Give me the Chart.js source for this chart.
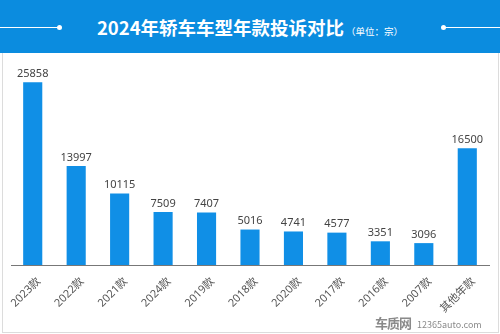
<!DOCTYPE html>
<html lang="zh">
<head>
<meta charset="UTF-8">
<title>2024年轿车车型年款投诉对比</title>
<style>
    body { margin: 0; width: 500px; height: 334px; overflow: hidden; background: #fff; font-family: 'Noto Sans CJK SC', 'Noto Sans', sans-serif; }
    .banner { position: absolute; left: 0; top: 0; width: 500px; height: 53px; background: #0b8cdf; }
    .banner .title { position: absolute; left: 0; width: 500px; top: 14px; text-align: center; color: #fff; font-size: 18.5px; font-weight: bold; line-height: 26px; white-space: nowrap; }
    .banner .title small { font-size: 9.5px; font-weight: normal; margin-left: 2px; }
    .line { position: absolute; top: 27px; height: 1px; background: #fff; }
    .dot { position: absolute; top: 25px; width: 5px; height: 5px; border-radius: 50%; background: #fff; }
    .panel { position: absolute; left: 2px; top: 53px; width: 495px; height: 279px; border: 1px solid #dcdcdc; border-top: none; }
    #chart { position: absolute; left: 0; top: 53px; width: 500px; height: 281px; }
    .mark { position: absolute; left: 375px; top: 309px; color: #8a8a8a; white-space: nowrap; }
    .mark b { font-size: 13px; letter-spacing: -1px; }
    .mark span { font-size: 9px; margin-left: 6px; }
</style>
</head>
<body>
    <div class="banner">
        <div class="line" style="left:0;width:58px"></div>
        <div class="dot" style="left:57px"></div>
        <div class="dot" style="left:441px"></div>
        <div class="line" style="left:443px;width:57px"></div>
        <div class="title">2024年轿车车型年款投诉对比<small>（单位：宗）</small></div>
    </div>
    <div class="panel"></div>
    <div id="chart"><canvas id="c"></canvas></div>
    <div class="mark"><b>车质网</b><span>12365auto.com</span></div>
<script src="https://cdn.jsdelivr.net/npm/chart.js@4/dist/chart.umd.min.js"></script>
<script>
    const labels = ['2023款', '2022款', '2021款', '2024款', '2019款', '2018款', '2020款', '2017款', '2016款', '2007款', '其他年款'];
    const values = [25858, 13997, 10115, 7509, 7407, 5016, 4741, 4577, 3351, 3096, 16500];
    const yMax = 28000;

    // 막대 위에 값 표시
    const valueLabels = {
        id: 'valueLabels',
        afterDatasetsDraw(chart) {
            const ctx = chart.ctx;
            const meta = chart.getDatasetMeta(0);
            ctx.save();
            ctx.font = '11px "Noto Sans", "Noto Sans CJK SC", sans-serif';
            ctx.fillStyle = '#444';
            ctx.textAlign = 'center';
            ctx.textBaseline = 'bottom';
            meta.data.forEach((bar, i) => {
                ctx.fillText(values[i], bar.x, bar.y - 3);
            });
            ctx.restore();
        }
    };

    new Chart(document.getElementById('c'), {
        type: 'bar',
        data: {
            labels: labels,
            datasets: [{
                data: values,
                backgroundColor: '#108fe6',
                borderWidth: 0,
                categoryPercentage: 1,
                barPercentage: 0.44
            }]
        },
        options: {
            responsive: true,
            maintainAspectRatio: false,
            animation: false,
            layout: { padding: { left: 11, right: 11, top: 14, bottom: 0 } },
            plugins: { legend: { display: false }, tooltip: { enabled: false } },
            scales: {
                x: {
                    grid: { display: false },
                    border: { display: true, color: '#777', width: 1 },
                    ticks: {
                        minRotation: 45,
                        maxRotation: 45,
                        padding: 2,
                        labelOffset: 6,
                        color: '#555',
                        font: { size: 11, family: '"Noto Sans", "Noto Sans CJK SC", sans-serif' }
                    },
                    afterFit: (s) => { s.height = 69; }
                },
                y: {
                    display: false,
                    min: 0,
                    max: yMax
                }
            }
        },
        plugins: [valueLabels]
    });
</script>
</body>
</html>
